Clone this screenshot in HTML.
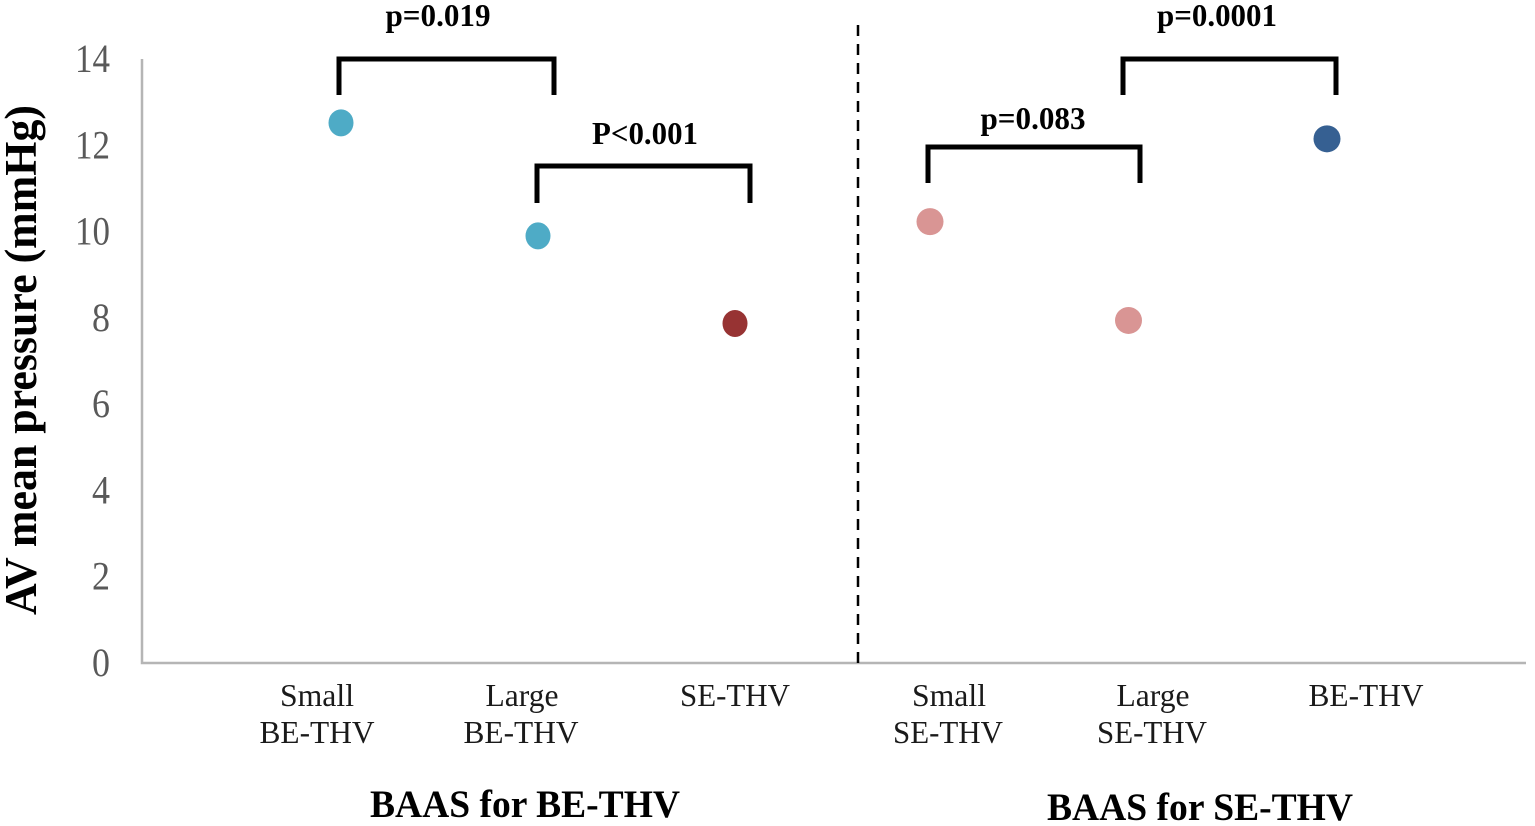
<!DOCTYPE html>
<html>
<head>
<meta charset="utf-8">
<title>AV mean pressure chart</title>
<style>
html,body{margin:0;padding:0;background:#fff;width:1535px;height:826px;overflow:hidden}
svg{display:block}
text{font-family:"Liberation Serif",serif}
.tick{font-size:40px;fill:#595959;text-anchor:end}
.cat{font-size:32px;fill:#1a1a1a;text-anchor:middle}
.p{font-size:32px;font-weight:bold;fill:#000;text-anchor:middle}
.grp{font-size:39px;font-weight:bold;fill:#000;text-anchor:middle}
.br{fill:none;stroke:#000;stroke-width:5}
</style>
</head>
<body>
<svg id="chart" width="1535" height="826" viewBox="0 0 1535 826">
  <g id="y-ticks"></g>
  <text transform="translate(36,360) rotate(-90)" text-anchor="middle" textLength="510" lengthAdjust="spacingAndGlyphs" style="font-size:45px;font-weight:bold;fill:#000">AV mean pressure (mmHg)</text>

  <path d="M142 59V663H1526" fill="none" stroke="#b5b5b5" stroke-width="2.5"/>
  <line x1="858" y1="25" x2="858" y2="663" stroke="#000" stroke-width="2.5" stroke-dasharray="11 8"/>

  <path class="br" d="M339 95V59H554V95"/>
  <path class="br" d="M537 203V166H750V203"/>
  <path class="br" d="M928 183V147H1140V183"/>
  <path class="br" d="M1123 95V59H1336V95"/>

  <text class="p" x="438" y="26" textLength="105" lengthAdjust="spacingAndGlyphs">p=0.019</text>
  <text class="p" x="645" y="144" textLength="106" lengthAdjust="spacingAndGlyphs">P&lt;0.001</text>
  <text class="p" x="1033" y="129" textLength="105" lengthAdjust="spacingAndGlyphs">p=0.083</text>
  <text class="p" x="1217" y="26" textLength="120" lengthAdjust="spacingAndGlyphs">p=0.0001</text>

  <g id="points"></g>

  <text class="cat" x="317" y="706" textLength="74" lengthAdjust="spacingAndGlyphs">Small</text>
  <text class="cat" x="317" y="743" textLength="115" lengthAdjust="spacingAndGlyphs">BE-THV</text>
  <text class="cat" x="522" y="706" textLength="73" lengthAdjust="spacingAndGlyphs">Large</text>
  <text class="cat" x="521" y="743" textLength="115" lengthAdjust="spacingAndGlyphs">BE-THV</text>
  <text class="cat" x="735" y="706" textLength="110" lengthAdjust="spacingAndGlyphs">SE-THV</text>
  <text class="cat" x="949" y="706" textLength="74" lengthAdjust="spacingAndGlyphs">Small</text>
  <text class="cat" x="948" y="743" textLength="110" lengthAdjust="spacingAndGlyphs">SE-THV</text>
  <text class="cat" x="1153" y="706" textLength="73" lengthAdjust="spacingAndGlyphs">Large</text>
  <text class="cat" x="1152" y="743" textLength="110" lengthAdjust="spacingAndGlyphs">SE-THV</text>
  <text class="cat" x="1366" y="706" textLength="115" lengthAdjust="spacingAndGlyphs">BE-THV</text>

  <text class="grp" x="525" y="817" textLength="310" lengthAdjust="spacingAndGlyphs">BAAS for BE-THV</text>
  <text class="grp" x="1200" y="820" textLength="306" lengthAdjust="spacingAndGlyphs">BAAS for SE-THV</text>
</svg>
<script>
var tickLabels = [0, 2, 4, 6, 8, 10, 12, 14];
var categories = ["Small BE-THV", "Large BE-THV", "SE-THV", "Small SE-THV", "Large SE-THV", "BE-THV"];
var meanPressure = [12.52, 9.9, 7.87, 10.23, 7.94, 12.15];
var pointColors = ["#4eabc6", "#4eabc6", "#973333", "#d99594", "#d99594", "#366092"];

var NS = "http://www.w3.org/2000/svg";
function yScale(v) { return 663 - v * (604 / 14); }
function xScale(i) { return i < 3 ? 341 + i * 197 : 930 + (i - 3) * 198.5; }

var tickGroup = document.getElementById("y-ticks");
tickLabels.forEach(function (t) {
  var el = document.createElementNS(NS, "text");
  
  
  el.setAttribute("class", "tick");
  el.setAttribute("x", 110);
  el.setAttribute("y", yScale(t) + 13);
  el.setAttribute("textLength", t >= 10 ? 35 : 18);
  el.setAttribute("lengthAdjust", "spacingAndGlyphs");
  el.textContent = t;
  tickGroup.appendChild(el);
});

var pointGroup = document.getElementById("points");
categories.forEach(function (c, i) {
  var dot = document.createElementNS(NS, "ellipse");
  
  
  dot.setAttribute("cx", xScale(i));
  dot.setAttribute("cy", yScale(meanPressure[i]));
  dot.setAttribute("rx", i < 3 ? 12.5 : 13.5);
  dot.setAttribute("ry", 13.5);
  dot.setAttribute("fill", pointColors[i]);
  var tip = document.createElementNS(NS, "title");
  tip.textContent = c + ": " + meanPressure[i];
  dot.appendChild(tip);
  pointGroup.appendChild(dot);
});
</script>
</body>
</html>
